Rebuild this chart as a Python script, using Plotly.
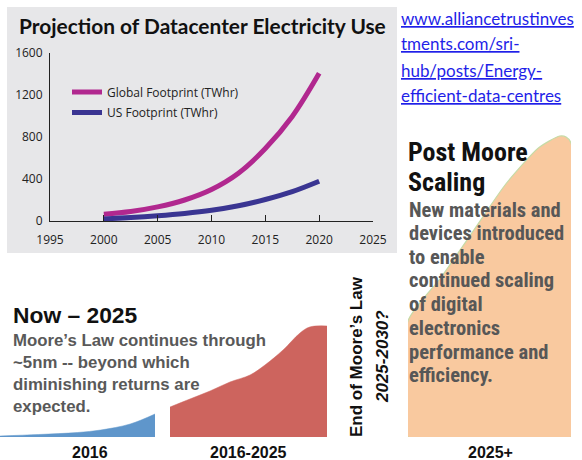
import plotly.graph_objects as go

W, H = 582, 460

# ---- main chart data ----
years = [2000, 2002.5, 2005, 2007.5, 2010, 2012.5, 2015, 2017.5, 2020]
global_twh = [64, 90, 134, 200, 300, 455, 690, 995, 1406]
us_twh = [20, 33, 50, 72, 102, 145, 205, 280, 379]
x_ticks = [1995, 2000, 2005, 2010, 2015, 2020, 2025]
y_ticks = [0, 400, 800, 1200, 1600]

# ---- illustrative stage curves (relative performance) ----
stage1_x = [0, 0.25, 0.5, 0.65, 0.84, 1.0]
stage1_h = [1, 2.5, 4.5, 7, 13, 23]
stage2_x = [0, 0.127, 0.255, 0.382, 0.51, 0.605, 0.72, 0.828, 0.89, 1.0]
stage2_h = [30, 38, 46, 55, 62, 72, 87, 104, 110, 111]
stage3_x = [0, 0.2, 0.4, 0.6, 0.8, 0.93, 0.97, 1.0]
stage3_h = [116, 159, 206, 253, 289, 301, 300, 294]
stage_labels = ["2016", "2016-2025", "2025+"]


def px(x):
    return x / W


def py(y):
    return 1 - y / H


fig = go.Figure()

fig.add_trace(go.Scatter(x=years, y=global_twh, mode="lines", name="Global Footprint (TWhr)",
                         legendgroup="g", line=dict(color="#b1288f", width=5, shape="spline"),
                         xaxis="x", yaxis="y"))
fig.add_trace(go.Scatter(x=years, y=us_twh, mode="lines", name="US Footprint (TWhr)",
                         legendgroup="u", line=dict(color="#3a3592", width=5, shape="spline"),
                         xaxis="x", yaxis="y"))

fig.add_trace(go.Scatter(x=stage1_x, y=stage1_h, mode="lines", fill="tozeroy", showlegend=False,
                         line=dict(color="#5f96cb", width=0.5, shape="spline"),
                         fillcolor="#5f96cb", xaxis="x2", yaxis="y2", hoverinfo="skip"))
fig.add_trace(go.Scatter(x=stage2_x, y=stage2_h, mode="lines", fill="tozeroy", showlegend=False,
                         line=dict(color="#cd645e", width=0.5, shape="spline"),
                         fillcolor="#cd645e", xaxis="x3", yaxis="y2", hoverinfo="skip"))
fig.add_trace(go.Scatter(x=[0] + stage3_x + [1, 0], y=[0] + stage3_h + [0, 0], mode="lines",
                         fill="toself", showlegend=False,
                         line=dict(color="#c6dba6", width=1.2, shape="spline", smoothing=0.6),
                         fillcolor="#f9c99f", xaxis="x4", yaxis="y2", hoverinfo="skip"))

tick_font = dict(family="Open Sans, Liberation Sans, sans-serif", size=12, color="#222")
hidden = dict(visible=False, fixedrange=True)

fig.update_layout(
    width=W, height=H,
    margin=dict(l=0, r=0, t=0, b=0, pad=0, autoexpand=False),
    paper_bgcolor="white",
    plot_bgcolor="rgba(0,0,0,0)",
    xaxis=dict(domain=[px(50), px(373)], range=[1995, 2025], tickvals=x_ticks,
               ticks="inside", ticklen=6, tickcolor="#222", showline=True, linecolor="#222",
               linewidth=1, showgrid=False, zeroline=False, tickfont=tick_font, anchor="y",
               ticklabelstandoff=8),
    yaxis=dict(domain=[py(221), py(53)], range=[0, 1600], tickvals=y_ticks,
               ticks="", showline=True, linecolor="#222", linewidth=1, showgrid=False,
               zeroline=False, tickfont=tick_font, anchor="x", ticklabelstandoff=4),
    xaxis2=dict(domain=[px(0), px(155)], range=[0, 1], anchor="y2", **hidden),
    xaxis3=dict(domain=[px(170), px(327)], range=[0, 1], anchor="y2", **hidden),
    xaxis4=dict(domain=[px(408), px(571)], range=[0, 1], anchor="y2", **hidden),
    yaxis2=dict(domain=[py(437), py(114)], range=[0, 323], anchor="x2", **hidden),
    # full-page helper axes used only to position the text labels
    xaxis5=dict(domain=[0, 1], range=[0, W], anchor="y5", **hidden),
    yaxis5=dict(domain=[0, 1], range=[H, 0], anchor="x5", **hidden),
    legend=dict(x=px(67), y=py(77.5), xanchor="left", yanchor="top", bgcolor="rgba(0,0,0,0)",
                font=dict(family="Open Sans, Liberation Sans, sans-serif", size=12, color="#222"),
                tracegroupgap=1.5),
    showlegend=True,
    shapes=[dict(type="rect", xref="paper", yref="paper", x0=px(7), x1=px(397), y0=py(253), y1=py(7),
                 fillcolor="#e7e7e9", line=dict(width=0), layer="below")],
)

ann = []
ann.append(dict(text="Projection of Datacenter Electricity Use", x=17, y=25, xanchor="left",
                yanchor="middle", font=dict(family="Lato, Open Sans, sans-serif", size=20.9, color="#111",
                                            weight="bold")))
url_lines = ["www.alliancetrustinves", "tments.com/sri-", "hub/posts/Energy-", "efficient-data-centres"]
for t, yy in zip(url_lines, [18, 43, 70, 95]):
    ann.append(dict(text="<u>" + t + "</u>", x=399, y=yy, xanchor="left", yanchor="middle",
                    font=dict(family="Lato, Liberation Sans, sans-serif", size=17, color="#1f1fe8")))

ann.append(dict(text="<b>Now – 2025</b>", x=11, y=315, xanchor="left", yanchor="middle",
                font=dict(family="Liberation Sans, sans-serif", size=22.8, color="#111")))
para = ["Moore’s Law continues through", "~5nm -- beyond which", "diminishing returns are", "expected."]
for t, yy in zip(para, [340, 362, 384, 406]):
    ann.append(dict(text="<b>" + t + "</b>", x=11, y=yy, xanchor="left", yanchor="middle",
                    font=dict(family="Liberation Sans, sans-serif", size=16.8, color="#595959")))

for t, xx in zip(stage_labels, [90, 248, 490]):
    ann.append(dict(text="<b>" + t + "</b>", x=xx, y=452, xanchor="center", yanchor="middle",
                    font=dict(family="Liberation Sans, sans-serif", size=16, color="#111")))

ann.append(dict(text="<b>End of Moore’s Law</b>", x=356, y=357, textangle=-90,
                xanchor="center", yanchor="middle",
                font=dict(family="Liberation Sans, sans-serif", size=17, color="#111")))
ann.append(dict(text="<b><i>2025-2030?</i></b>", x=382, y=357, textangle=-90,
                xanchor="center", yanchor="middle",
                font=dict(family="Liberation Sans, sans-serif", size=17, color="#111")))

narrow = "Liberation Sans Narrow, Roboto Condensed, Arial Narrow, sans-serif"
for t, yy in zip(["Post Moore", "Scaling"], [152, 182]):
    ann.append(dict(text="<b>" + t + "</b>", x=406, y=yy, xanchor="left", yanchor="middle",
                    font=dict(family=narrow, size=26, color="#111")))
post = ["New materials and", "devices introduced", "to enable", "continued scaling", "of digital",
        "electronics", "performance and", "efficiency."]
for t, yy in zip(post, [210, 233, 257, 280, 304, 328, 352, 375]):
    ann.append(dict(text="<b>" + t + "</b>", x=407, y=yy, xanchor="left", yanchor="middle",
                    font=dict(family=narrow, size=20.5, color="#575757")))

for a in ann:
    a.update(xref="x5", yref="y5", showarrow=False)
fig.update_layout(annotations=ann)

fig.write_html("out.html", config={"displayModeBar": False},
               post_script="document.body.style.margin='0';document.body.style.overflow='hidden';")
